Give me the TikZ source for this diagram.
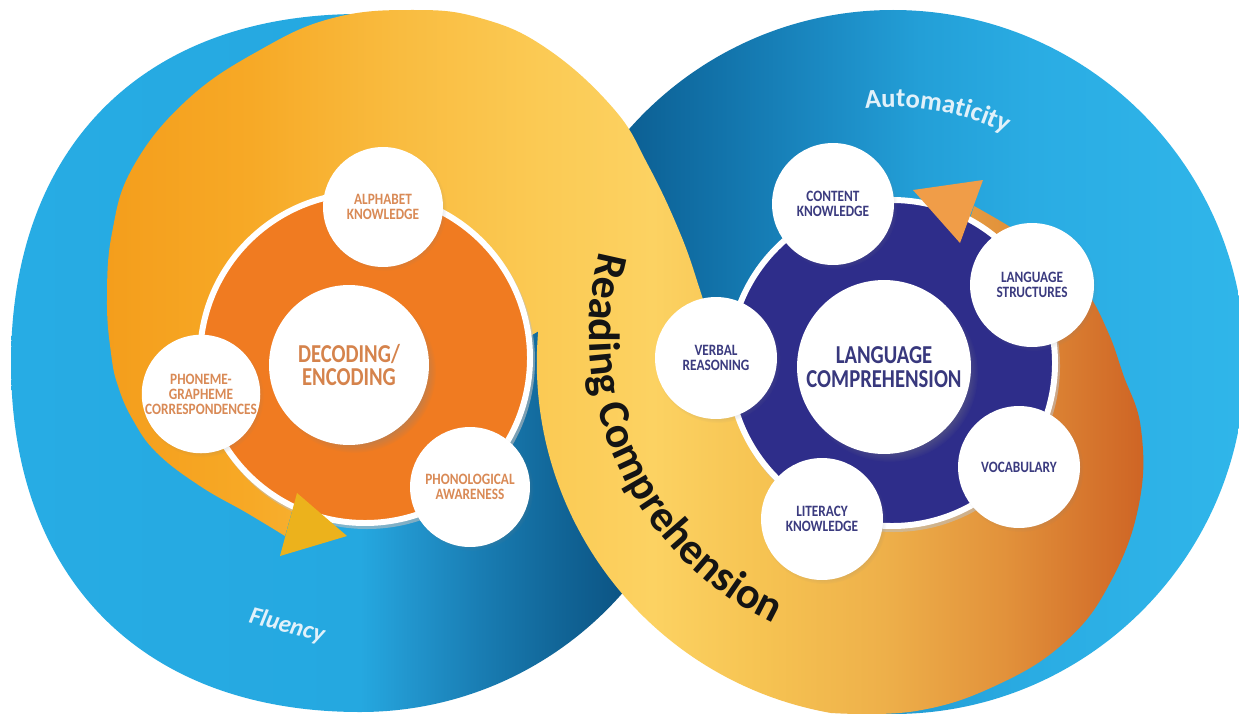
\documentclass[tikz,border=0pt]{standalone}
\usepackage{fontspec}
\setmainfont{Carlito}
\newfontfamily\labfont[FakeStretch=0.84]{Carlito}
\newfontfamily\cenfont[FakeStretch=0.80]{Carlito}
\usetikzlibrary{calc,decorations.text,shadows,fadings}

\definecolor{lbA}{HTML}{27ACE4}
\definecolor{lbB}{HTML}{25A8E0}
\definecolor{lbC}{HTML}{2194CC}
\definecolor{lbD}{HTML}{197DB3}
\definecolor{lbE}{HTML}{116597}
\definecolor{lbF}{HTML}{0C5585}
\definecolor{lbG}{HTML}{0A4A78}

\definecolor{rbA}{HTML}{0A5688}
\definecolor{rbB}{HTML}{0C5F93}
\definecolor{rbC}{HTML}{1273AA}
\definecolor{rbD}{HTML}{1B8AC3}
\definecolor{rbE}{HTML}{239FD7}
\definecolor{rbF}{HTML}{2AACE3}
\definecolor{rbG}{HTML}{30B6EA}

\definecolor{ysA}{HTML}{F49E1C}
\definecolor{ysB}{HTML}{F7A926}
\definecolor{ysC}{HTML}{F9BC40}
\definecolor{ysD}{HTML}{FBCA54}
\definecolor{ysE}{HTML}{FCD262}
\definecolor{ysF}{HTML}{F6C352}
\definecolor{ysG}{HTML}{EEB04A}
\definecolor{ysH}{HTML}{E2923B}
\definecolor{ysI}{HTML}{D4712B}
\definecolor{ysJ}{HTML}{CE6424}

\definecolor{ringorange}{HTML}{F07B21}
\definecolor{ringnavy}{HTML}{2E2D8A}
\definecolor{arrowgold}{HTML}{ECB21C}
\definecolor{arroworange}{HTML}{F09D48}
\definecolor{labL}{HTML}{D98A56}
\definecolor{cenL}{HTML}{D5834C}
\definecolor{labR}{HTML}{3B3B7F}
\definecolor{cenR}{HTML}{38387D}
\definecolor{flutext}{HTML}{E1F1FA}
\definecolor{rctext}{HTML}{141414}

\pgfdeclarehorizontalshading{leftblue}{100bp}{color(0bp)=(lbA); color(25bp)=(lbA); color(50bp)=(lbB); color(53.8bp)=(lbC); color(58.6bp)=(lbD); color(64.3bp)=(lbE); color(68.6bp)=(lbF); color(75bp)=(lbG); color(100bp)=(lbG)}
\pgfdeclarehorizontalshading{rightblue}{100bp}{color(0bp)=(rbA); color(25bp)=(rbA); color(31bp)=(rbB); color(37.7bp)=(rbC); color(45.2bp)=(rbD); color(51.9bp)=(rbE); color(59.9bp)=(rbF); color(75bp)=(rbG); color(100bp)=(rbG)}
\pgfdeclarehorizontalshading{spiral}{100bp}{color(0bp)=(ysA); color(25bp)=(ysA); color(31.9bp)=(ysB); color(39.2bp)=(ysC); color(45.9bp)=(ysD); color(51.3bp)=(ysE); color(56.6bp)=(ysF); color(62.4bp)=(ysG); color(68.2bp)=(ysH); color(73bp)=(ysI); color(75bp)=(ysJ); color(100bp)=(ysJ)}

\newcommand{\myrcfont}{\bfseries\fontsize{25}{30}\selectfont}
\newcommand{\myautofont}{\bfseries\fontsize{15.2}{18}\selectfont}

\tikzset{
  bubble/.style={circle, fill=white, inner sep=0pt, align=center,
    circular drop shadow={shadow xshift=1pt, shadow yshift=-1.2pt, shadow scale=1.03, opacity=0.3}},
  bubL/.style={bubble, minimum size=2.4cm, text=labL,
    font=\labfont\bfseries\fontsize{9}{8.6}\selectfont},
  bubR/.style={bubble, minimum size=2.44cm, text=labR,
    font=\labfont\bfseries\fontsize{9}{8.6}\selectfont},
  centerL/.style={circle, fill=white, inner sep=0pt, align=center, minimum size=3.2cm,
    text=cenL, font=\cenfont\bfseries\fontsize{14.7}{13.6}\selectfont,
    circular drop shadow={shadow xshift=3pt, shadow yshift=-3.5pt, shadow scale=1.02, opacity=0.45}},
  centerR/.style={circle, fill=white, inner sep=0pt, align=center, minimum size=3.48cm,
    text=cenR, font=\cenfont\bfseries\fontsize{14.7}{13.6}\selectfont,
    circular drop shadow={shadow xshift=3pt, shadow yshift=-3.5pt, shadow scale=1.02, opacity=0.45}},
  ringborder/.style={draw=white, line width=3.4pt}
}

\begin{document}
\begin{tikzpicture}[x=0.02cm, y=-0.02cm]
\useasboundingbox (0,0) rectangle (1239,713);
\clip (0,0) rectangle (1239,713);
\fill[white] (0,0) rectangle (1239,713);

% left blue disc
\path[shading=leftblue] (360,14) .. controls (143.6,14) and (11,146.6) .. (11,363)
  .. controls (11,579.4) and (143.6,712) .. (360,712)
  .. controls (552.8,712) and (709,555.8) .. (709,363)
  .. controls (709,170.2) and (552.8,14) .. (360,14) -- cycle;

% right blue disc
\path[shading=rightblue] (893,362) circle[radius=352];

% yellow / orange double spiral
\path[shading=spiral] (297,493)
  -- plot[smooth, tension=0.7] coordinates {(285,536) (247,513) (200,486) (157,453) (133,420) (118,386) (111,353) (107,300) (112,233) (133,167) (187,100) (260,50) (333,18) (413,10) (480,18) (546,48) (613,108) (648,165) (680,233) (700,290) (712,330) (722,350)}
  -- (760,345) -- (965,235)
  -- plot[smooth, tension=0.7] coordinates {(974,206) (1015,230) (1053,257) (1086,291) (1108,332) (1123,374) (1141,429) (1139,504) (1111,581) (1066,641) (997,685) (916,711) (831,713)}
  arc[start angle=100, end angle=185, radius=356]
  -- (420,400) -- cycle;

% rings
\fill[black!25, opacity=0.6] (367,361) circle[radius=168];
\path[fill=ringorange, ringborder] (365,358) circle[radius=165];
\fill[black!25, opacity=0.6] (894,366) circle[radius=166];
\path[fill=ringnavy, ringborder] (892,363) circle[radius=163];

% arrowheads
\fill[arrowgold] (297,493) -- (347,536) -- (280,556) -- cycle;
\fill[arroworange] (960,243) -- (913,190) -- (983,180) -- cycle;

% left circles
\node[centerL] (dec) at (349,365) {DECODING/\\ENCODING};
\node[bubL] (alpha) at (383,207) {ALPHABET\\KNOWLEDGE};
\node[bubL, minimum size=2.32cm] (phon) at (201,394) {PHONEME-\\GRAPHEME\\CORRESPONDENCES};
\node[bubL] (phaw) at (470,487) {PHONOLOGICAL\\AWARENESS};

% right circles
\node[centerR] (lang) at (884,367) {LANGUAGE\\COMPREHENSION};
\node[bubR] (cont) at (833,204) {CONTENT\\KNOWLEDGE};
\node[bubR, minimum size=2.48cm] (lstr) at (1032,285) {LANGUAGE\\STRUCTURES};
\node[bubR] (verb) at (716,358) {VERBAL\\REASONING};
\node[bubR] (voc) at (1019,467) {VOCABULARY};
\node[bubR] (lit) at (822,519) {LITERACY\\KNOWLEDGE};

% labels
\node[rotate=-15, text=flutext, font=\bfseries\itshape\fontsize{14}{16}\selectfont] (flu) at (287,626) {Fluency};
\path[decorate, decoration={text along path, text align=center,
   text={|\myautofont\color{flutext}|Automaticity}}]
   ($(893,362)+(-100:255)$) arc[start angle=-100, end angle=-60, radius=255];
\path[decorate, decoration={text along path, text align=center,
   text={|\myrcfont\color{rctext}|Reading Comprehension}}]
   ($(910,333)+(203:321)$) arc[start angle=203, end angle=107, radius=321];
\end{tikzpicture}
\end{document}
